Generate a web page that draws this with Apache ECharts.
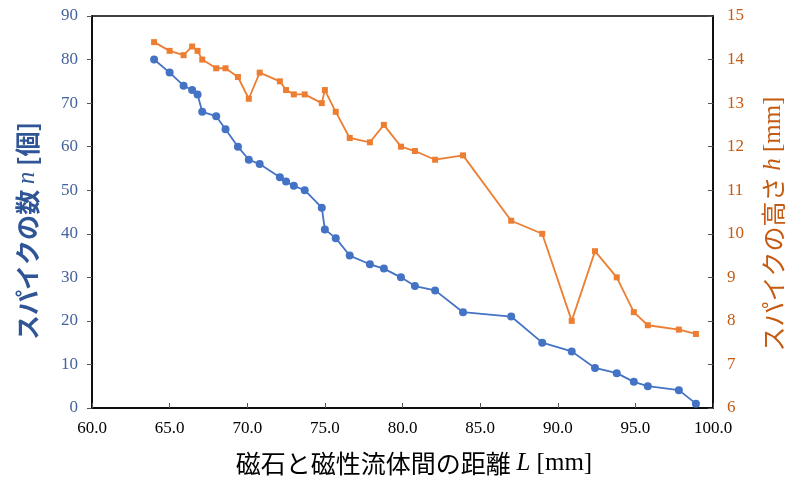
<!DOCTYPE html>
<html>
<head>
<meta charset="utf-8">
<script src="https://cdn.jsdelivr.net/npm/echarts@6/dist/echarts.min.js"></script>
<style>html,body{margin:0;padding:0;background:#fff;}#c{width:788px;height:484px;}</style>
</head>
<body>
<div id="c"></div>
<script>
// distance L [mm]
const distances = [64.0, 65.0, 65.9, 66.45, 66.8, 67.1, 68.0, 68.6, 69.4, 70.1, 70.8, 72.1, 72.5, 73.0, 73.7, 74.8, 75.0, 75.7, 76.6, 77.9, 78.8, 79.9, 80.8, 82.1, 83.9, 87.0, 89.0, 90.9, 92.4, 93.8, 94.9, 95.8, 97.8, 98.9];
// spike count n
const spikeCounts = [80, 77, 74, 73, 72, 68, 67, 64, 60, 57, 56, 53, 52, 51, 50, 46, 41, 39, 35, 33, 32, 30, 28, 27, 22, 21, 15, 13, 9.2, 8, 6, 5, 4.1, 1];
// spike height h [mm]
const spikeHeights = [14.4, 14.2, 14.1, 14.3, 14.2, 14.0, 13.8, 13.8, 13.6, 13.1, 13.7, 13.5, 13.3, 13.2, 13.2, 13.0, 13.3, 12.8, 12.2, 12.1, 12.5, 12.0, 11.9, 11.7, 11.8, 10.3, 10.0, 8.0, 9.6, 9.0, 8.2, 7.9, 7.8, 7.7];

const xTitle = ['磁石と磁性流体間の距離 ', 'L', ' [mm]'];
const leftTitle = ['スパイクの数 ', 'n', ' [個]'];
const rightTitle = ['スパイクの高さ ', 'h', ' [mm]'];

const serif = '"Liberation Serif", "DejaVu Serif", serif';
const cjk = '"Noto Sans CJK JP", sans-serif';

const chart = echarts.init(document.getElementById('c'));
const nData = distances.map((d, i) => [d, spikeCounts[i]]);
const hData = distances.map((d, i) => [d, spikeHeights[i]]);

chart.setOption({
  animation: false,
  grid: { left: 92, right: 75, top: 16, bottom: 76, show: true, borderColor: '#000', borderWidth: 1.5, backgroundColor: 'transparent' },
  xAxis: {
    type: 'value', min: 60, max: 100, interval: 5,
    axisLine: { show: true, lineStyle: { color: '#000', width: 1.5 } },
    axisTick: { show: true, inside: true, length: 5, lineStyle: { color: '#555' } },
    splitLine: { show: false },
    axisLabel: { formatter: v => v.toFixed(1), fontFamily: serif, fontSize: 17, color: '#000', margin: 12 }
  },
  yAxis: [
    {
      type: 'value', min: 0, max: 90, interval: 10, position: 'left',
      axisLine: { show: true, lineStyle: { color: '#000', width: 1.5 } },
      axisTick: { show: true, inside: false, length: 5, lineStyle: { color: '#555' } },
      splitLine: { show: false },
      axisLabel: { fontFamily: serif, fontSize: 17, color: '#44639E', margin: 14 }
    },
    {
      type: 'value', min: 6, max: 15, interval: 1, position: 'right',
      axisLine: { show: true, lineStyle: { color: '#000', width: 1.5 } },
      axisTick: { show: true, inside: true, length: 5, lineStyle: { color: '#555' } },
      splitLine: { show: false },
      axisLabel: { fontFamily: serif, fontSize: 17, color: '#C55A11', margin: 14 }
    }
  ],
  series: [
    {
      type: 'line', yAxisIndex: 0, data: nData, symbol: 'circle', symbolSize: 8,
      lineStyle: { color: '#4472C4', width: 1.8 }, itemStyle: { color: '#4472C4' }
    },
    {
      type: 'line', yAxisIndex: 1, data: hData, symbol: 'rect', symbolSize: 6,
      lineStyle: { color: '#ED7D31', width: 1.8 }, itemStyle: { color: '#ED7D31' }
    }
  ],
  graphic: [
    {
      type: 'text', x: 414, y: 463,
      style: {
        text: '{a|' + xTitle[0] + '}{i|' + xTitle[1] + '}{b|' + xTitle[2] + '}',
        align: 'center', verticalAlign: 'middle',
        rich: {
          a: { fontFamily: cjk, fontSize: 25, fill: '#000' },
          i: { fontFamily: serif, fontSize: 25, fontStyle: 'italic', fill: '#000' },
          b: { fontFamily: serif, fontSize: 25, fill: '#000' }
        }
      }
    },
    {
      type: 'text', x: 27, y: 231, rotation: Math.PI / 2,
      style: {
        text: '{a|' + leftTitle[0] + '}{i|' + leftTitle[1] + '}{a|' + leftTitle[2] + '}',
        align: 'center', verticalAlign: 'middle',
        rich: {
          a: { fontFamily: cjk, fontSize: 25, fontWeight: 'bold', fill: '#2F5597' },
          i: { fontFamily: serif, fontSize: 25, fontStyle: 'italic', fill: '#2F5597' }
        }
      }
    },
    {
      type: 'text', x: 773, y: 224, rotation: Math.PI / 2,
      style: {
        text: '{a|' + rightTitle[0] + '}{i|' + rightTitle[1] + '}{b|' + rightTitle[2] + '}',
        align: 'center', verticalAlign: 'middle',
        rich: {
          a: { fontFamily: cjk, fontSize: 25, fill: '#C55A11' },
          i: { fontFamily: serif, fontSize: 25, fontStyle: 'italic', fill: '#C55A11' },
          b: { fontFamily: serif, fontSize: 25, fill: '#C55A11' }
        }
      }
    }
  ]
});
</script>
</body>
</html>
